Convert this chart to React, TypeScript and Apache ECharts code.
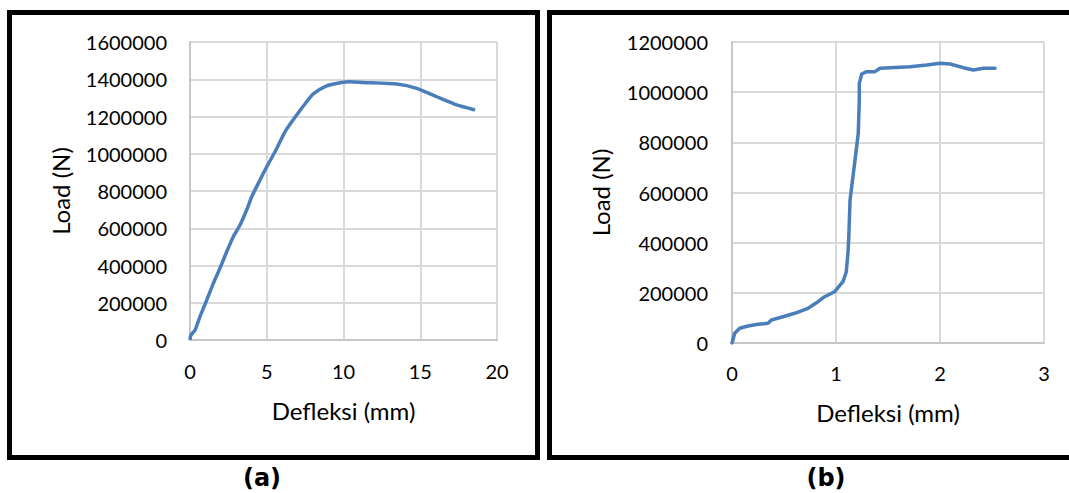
import React, { useEffect, useRef } from "react";
import * as echarts from "echarts";

// Panel (a)
const defleksiA = [0, 0.05, 0.33, 0.65, 1.09, 1.52, 1.95, 2.39, 2.82, 3.26, 3.69, 4.02, 4.45, 5.0, 5.54, 6.19, 6.95, 7.6, 8.03, 8.9, 9.77, 10.42, 11.29, 13.47, 14.77, 16.07, 17.37, 18.57];
const loadA = [0, 25000, 53700, 125000, 214800, 304400, 385000, 474000, 554600, 617400, 698000, 769000, 841000, 930000, 1011000, 1118000, 1208000, 1279000, 1321000, 1364000, 1381000, 1387000, 1383000, 1374000, 1351000, 1306000, 1262000, 1235000];

// Panel (b)
const defleksiB = [0, 0.026, 0.074, 0.154, 0.25, 0.346, 0.378, 0.474, 0.603, 0.731, 0.827, 0.891, 0.987, 1.067, 1.099, 1.115, 1.122, 1.135, 1.183, 1.214, 1.224, 1.224, 1.247, 1.295, 1.375, 1.423, 1.712, 1.872, 2.0, 2.096, 2.224, 2.32, 2.416, 2.529];
const loadB = [0, 38700, 58600, 67800, 74600, 78500, 91700, 102500, 118400, 138300, 164700, 184600, 204500, 244400, 284300, 357600, 410700, 570000, 729600, 836000, 968800, 1035000, 1072500, 1081700, 1081700, 1095200, 1101600, 1108400, 1115200, 1112400, 1097600, 1088400, 1095200, 1095200];

const xTitle = "Defleksi (mm)";
const yTitle = "Load (N)";
const panelLabels = ["(a)", "(b)"];

const FONT = "Lato";
const GRID_COLOR = "#d9d9d9";
const LINE_COLOR = "#4a7ebb";

const plain = (v: number) => String(v);

function xAxisCfg(gridIndex: number, max: number, interval: number, gap: number, margin: number) {
  return {
    type: "value",
    gridIndex,
    min: 0,
    max,
    interval,
    name: xTitle,
    nameLocation: "middle",
    nameGap: gap,
    nameTextStyle: { fontFamily: FONT, fontSize: 24, color: "#000" },
    axisLine: { show: true, lineStyle: { color: "#c6c6c6", width: 2 } },
    axisTick: { show: false },
    axisLabel: { fontFamily: FONT, fontSize: 20, color: "#000", margin, formatter: plain },
    splitLine: { show: true, lineStyle: { color: GRID_COLOR, width: 2 } },
  };
}

function yAxisCfg(gridIndex: number, max: number, gap: number, margin: number) {
  return {
    type: "value",
    gridIndex,
    min: 0,
    max,
    interval: 200000,
    name: yTitle,
    nameLocation: "middle",
    nameGap: gap,
    nameTextStyle: { fontFamily: FONT, fontSize: 24, color: "#000" },
    axisLine: { show: true, lineStyle: { color: "#c6c6c6", width: 2 } },
    axisTick: { show: false },
    axisLabel: { fontFamily: FONT, fontSize: 20, color: "#000", margin, formatter: plain },
    splitLine: { show: true, lineStyle: { color: GRID_COLOR, width: 2 } },
  };
}

export default function App() {
  const ref = useRef<HTMLDivElement>(null);
  useEffect(() => {
    if (!ref.current) return;
    const chart = echarts.init(ref.current, undefined, { renderer: "svg" });
    chart.setOption({
      animation: false,
      backgroundColor: "#fff",
      grid: [
        { left: 190, top: 42, width: 307, height: 298 },
        { left: 732, top: 42, width: 312, height: 301 },
      ],
      xAxis: [xAxisCfg(0, 20, 5, 58, 21), xAxisCfg(1, 3, 1, 57, 20)],
      yAxis: [yAxisCfg(0, 1600000, 118, 23), yAxisCfg(1, 1200000, 120, 24)],
      series: [
        {
          type: "line",
          xAxisIndex: 0,
          yAxisIndex: 0,
          data: defleksiA.map((x, i) => [x, loadA[i]]),
          showSymbol: false,
          smooth: 0.2,
          lineStyle: { color: LINE_COLOR, width: 3.5 },
        },
        {
          type: "line",
          xAxisIndex: 1,
          yAxisIndex: 1,
          data: defleksiB.map((x, i) => [x, loadB[i]]),
          showSymbol: false,
          smooth: false,
          lineStyle: { color: LINE_COLOR, width: 3.5, join: "round", cap: "round" },
        },
      ],
      graphic: [
        {
          type: "rect",
          shape: { x: 9.5, y: 12.5, width: 528, height: 445 },
          style: { fill: "none", stroke: "#000", lineWidth: 5 },
          silent: true,
        },
        {
          type: "rect",
          shape: { x: 549.5, y: 12.5, width: 540, height: 445 },
          style: { fill: "none", stroke: "#000", lineWidth: 5 },
          silent: true,
        },
        {
          type: "text",
          x: 262,
          y: 478,
          style: {
            text: panelLabels[0],
            font: "bold 24px 'DejaVu Sans'",
            fill: "#000",
            textAlign: "center",
            textVerticalAlign: "middle",
          },
        },
        {
          type: "text",
          x: 826,
          y: 478,
          style: {
            text: panelLabels[1],
            font: "bold 24px 'DejaVu Sans'",
            fill: "#000",
            textAlign: "center",
            textVerticalAlign: "middle",
          },
        },
      ],
    });
    return () => chart.dispose();
  }, []);
  return (
    <div
      ref={ref}
      style={{ position: "fixed", left: 0, top: 0, width: 1069, height: 493 }}
    />
  );
}
